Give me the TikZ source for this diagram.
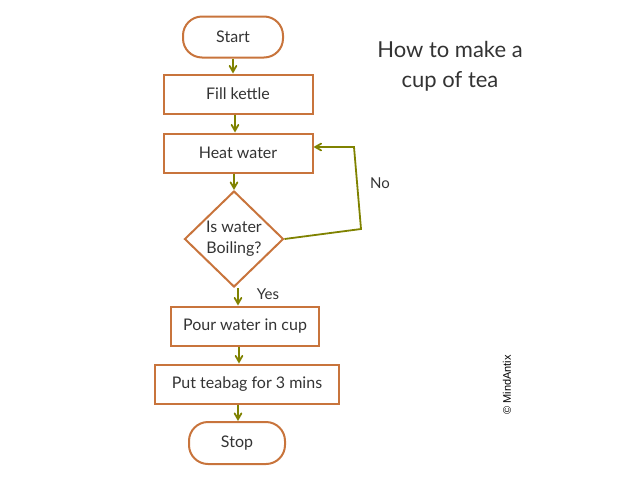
\documentclass[tikz,border=0pt]{standalone}
\usepackage{fontspec}
\setmainfont{Lato}
\setsansfont{Liberation Sans}
\usetikzlibrary{arrows,positioning,shapes.geometric}
\definecolor{boxbrown}{HTML}{C8743C}
\definecolor{linkolive}{HTML}{7F8200}
\definecolor{inkgray}{HTML}{333333}
\tikzset{box/.style={rectangle,draw=boxbrown,line width=2pt,text=inkgray,minimum height=39pt,font=\fontsize{16}{19}\selectfont}}
\tikzset{term/.style={box,rounded corners=19pt,minimum height=41pt}}
\tikzset{test/.style={diamond,draw=boxbrown,line width=2pt,text=inkgray,aspect=1,inner sep=0pt,minimum width=99pt,minimum height=96pt,align=center,font=\fontsize{16}{21}\selectfont}}
\tikzset{link/.style={->,>=angle 60,line width=1.8pt,draw=linkolive}}

\begin{document}
\begin{tikzpicture}[x=1pt,y=-1pt]
% \draw[help lines] (0,0) grid (640,480);
\useasboundingbox (0,0) rectangle (640,480);
\node (start) [term,minimum width=100pt] at (233,37) {Start};
\node (fill) [box,minimum width=149pt] at (238,94) {Fill kettle};
\node (heat) [box,minimum width=149pt] at (238,153) {Heat water};
\node (boil) [test] at (234,239) {Is water\\Boiling?};
\node (pour) [box,minimum width=148pt] at (245,326) {Pour water in cup};
\node (bag) [box,minimum width=184pt] at (247,384) {Put teabag for 3 mins};
\node (stop) [term,minimum width=96pt,minimum height=42pt] at (237,443) {Stop};
%
\node (title) [text=inkgray,align=center,font=\fontsize{22}{30}\selectfont] at (450,66) {How to make a\\cup of tea};
\node (no) [text=inkgray,font=\fontsize{15}{17}\selectfont] at (380,183) {No};
\node (yes) [text=inkgray,font=\fontsize{15}{17}\selectfont] at (268,294) {Yes};
\node (copy) [rotate=90,text=black,font=\sffamily\fontsize{11}{13}\selectfont] at (507,385) {\textcopyright\ MindAntix};
%
\coordinate (n1) at (361,229);
\coordinate (n2) at (354,147);
\draw[link] (start.south) -- (start.south |- fill.north);
\draw[link] (fill.south -| start.south) ++(2,0) -- ([xshift=2pt]start.south |- heat.north);
\draw[link] (boil.north |- heat.south) -- (boil.north);
\draw[link] (boil.south) ++(4,0) -- ([xshift=4pt]boil.south |- pour.north);
\draw[link] (pour.south -| bag.north) ++(-8,0) -- ([xshift=-8pt]bag.north);
\draw[link] (bag.south) ++(-9,0) -- ([xshift=-9pt]bag.south |- stop.north);
\draw[link] (boil.east) -- (n1) -- (n2) -- (heat.east |- n2);
\end{tikzpicture}
\end{document}
